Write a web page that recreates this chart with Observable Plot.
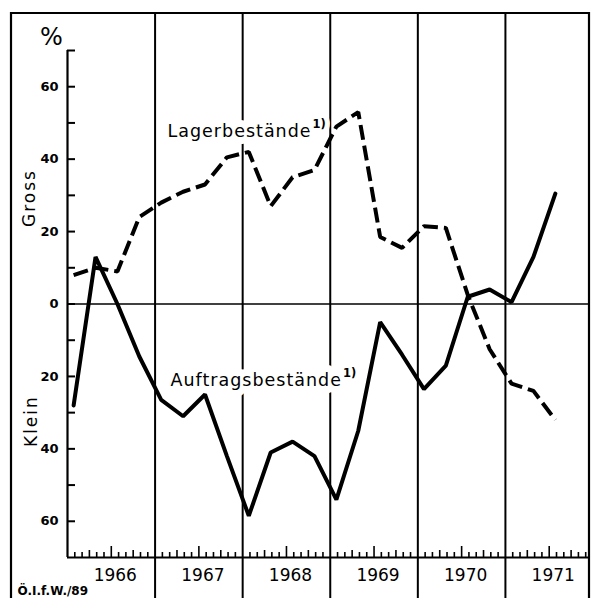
<!DOCTYPE html>
<html>
<head>
<meta charset="utf-8">
<script src="https://cdn.jsdelivr.net/npm/d3@7"></script>
<script src="https://cdn.jsdelivr.net/npm/@observablehq/plot@0.6"></script>
<style>
  html, body { margin: 0; padding: 0; background: #fff; }
  #chart svg { display: block; overflow: visible; }
</style>
</head>
<body>
<div id="chart"></div>
<script>
// ---- data (quarterly, 1966 I to 1971 III), values in % ----
const quarters = [
  "1966 I","1966 II","1966 III","1966 IV",
  "1967 I","1967 II","1967 III","1967 IV",
  "1968 I","1968 II","1968 III","1968 IV",
  "1969 I","1969 II","1969 III","1969 IV",
  "1970 I","1970 II","1970 III","1970 IV",
  "1971 I","1971 II","1971 III"
];
const lagerbestaende = [8, 10, 9, 24, 28, 31, 33, 40.5, 42, 27, 35, 37, 49, 53, 18.5, 15.5, 21.5, 21, 2.5, -12.5, -22, -24, -32];
const auftragsbestaende = [-28, 13, 0, -14.5, -26.5, -31, -25, -42, -58.5, -41, -38, -42, -54, -35, -5, -14, -23.5, -17, 2, 4, 0.5, 13, 30.5];
const years = [1966, 1967, 1968, 1969, 1970, 1971];
const yTickLabels = [-60, -40, -20, 0, 20, 40, 60];
const yTickMarks = [-60, -50, -40, -30, -20, -10, 0, 10, 20, 30, 40, 50, 60, 70];
const seriesLabels = ["Lagerbestände", "Auftragsbestände"];
const footnoteMark = "1)";
const sideLabels = ["Gross", "Klein"];

// ---- layout ----
const W = 591, H = 598;
const mL = 67, mR = 2, mT = 50, mB = 41;
const xMax = 1971.96;
const pxPerYear = (W - mL - mR) / (xMax - 1966);
const unitsPerPx = 140 / (H - mT - mB);

const qPos = (q) => {
  const [y, r] = q.split(" ");
  const idx = {"I": 0, "II": 1, "III": 2, "IV": 3}[r];
  return +y + idx / 4 + 0.07;
};
const lager = quarters.map((q, i) => ({t: qPos(q), v: lagerbestaende[i]}));
const auftrag = quarters.map((q, i) => ({t: qPos(q), v: auftragsbestaende[i]}));

const monthTicks = [];
for (const y of years) for (let m = 1; m < 12; m++) {
  monthTicks.push({t: y + m / 12, len: m === 6 ? 11 : (m % 3 === 0 ? 7 : 5)});
}
const yearLines = years.slice(1);

const font = "DejaVu Sans";
const labelSize = 17.5, labelSpacing = 1;
const ctx = document.createElement("canvas").getContext("2d");
ctx.font = `${labelSize}px "${font}"`;
const labelWidth = s => ctx.measureText(s).width + labelSpacing * s.length;

const labelPos = [{dx: 100, dy: 74}, {dx: 103, dy: 323}];
const labelMarks = seriesLabels.flatMap((s, i) => [
  Plot.text([s], {frameAnchor: "top-left", dx: labelPos[i].dx, dy: labelPos[i].dy, textAnchor: "start", text: d => d,
    fontSize: labelSize, stroke: "white", strokeWidth: 14, fill: "black", paintOrder: "stroke"}),
  Plot.text([footnoteMark], {frameAnchor: "top-left", dx: labelPos[i].dx + labelWidth(s) + 1, dy: labelPos[i].dy - 5,
    textAnchor: "start", text: d => d, fontSize: 11.5, fontWeight: "bold",
    stroke: "white", strokeWidth: 10, fill: "black", paintOrder: "stroke"})
]);

const plot = Plot.plot({
  width: W, height: H,
  marginLeft: mL, marginRight: mR, marginTop: mT, marginBottom: mB,
  x: {type: "linear", domain: [1966, xMax], axis: null},
  y: {type: "linear", domain: [-70, 70], axis: null},
  style: {fontFamily: font, background: "white", color: "black", overflow: "visible"},
  marks: [
    // year separators, reaching from the top frame to the bottom edge
    Plot.ruleX(yearLines, {x: d => d, y1: -70 - mB * unitsPerPx, y2: 70 + 37 * unitsPerPx, stroke: "black", strokeWidth: 2}),
    // zero line
    Plot.ruleY([0], {stroke: "black", strokeWidth: 1.6}),
    // axes lines
    Plot.ruleX([1966], {stroke: "black", strokeWidth: 2.2}),
    Plot.ruleY([-70], {stroke: "black", strokeWidth: 2.2}),
    // y tick marks (inward)
    Plot.ruleY(yTickMarks, {y: d => d, x1: 1966, x2: 1966 + 8 / pxPerYear, stroke: "black", strokeWidth: 2}),
    // month ticks on the x axis (inward)
    Plot.ruleX(monthTicks, {x: "t", y1: -70, y2: d => -70 + d.len * unitsPerPx, stroke: "black", strokeWidth: 1.6}),
    // y tick labels (absolute values)
    Plot.text(yTickLabels, {x: 1966, y: d => d, dx: -9, textAnchor: "end", text: d => String(Math.abs(d)),
      fontSize: 13, fontWeight: "bold"}),
    // year labels
    Plot.text(years, {x: d => d + 0.5, y: -70, dx: 4, dy: 18, text: d => String(d), fontSize: 17}),
    // % sign
    Plot.text(["%"], {x: 1966, y: 70, dx: -16, dy: -13, text: d => d, fontSize: 24}),
    // Gross / Klein
    Plot.text([sideLabels[0]], {frameAnchor: "left", dx: -38, dy: -77, rotate: -90, text: d => d, fontSize: 17}),
    Plot.text([sideLabels[1]], {frameAnchor: "left", dx: -36, dy: 143, rotate: -90, text: d => d, fontSize: 17}),
    // series labels with white halo interrupting the grid lines
    ...labelMarks,
    // series
    Plot.line(lager, {x: "t", y: "v", stroke: "black", strokeWidth: 4, strokeDasharray: "15,6", strokeLinejoin: "miter", strokeLinecap: "butt"}),
    Plot.line(auftrag, {x: "t", y: "v", stroke: "black", strokeWidth: 4, strokeLinejoin: "miter"}),
    // source note
    Plot.text(["Ö.I.f.W./89"], {frameAnchor: "bottom-left", dx: -50, dy: 37, textAnchor: "start", lineAnchor: "bottom",
      text: d => d, fontSize: 12, fontWeight: "bold"})
  ]
});

// letter spacing for the lettering
d3.select(plot).selectAll("text").each(function () {
  const t = this.textContent;
  if (seriesLabels.includes(t)) this.style.letterSpacing = labelSpacing + "px";
  if (sideLabels.includes(t)) this.style.letterSpacing = "2px";
});

// outer frame (decoration)
d3.select(plot).append("path")
  .attr("d", `M11,${H + 2}V13H589V${H + 2}`)
  .attr("fill", "none").attr("stroke", "black").attr("stroke-width", 2.2);

document.getElementById("chart").appendChild(plot);
</script>
</body>
</html>
